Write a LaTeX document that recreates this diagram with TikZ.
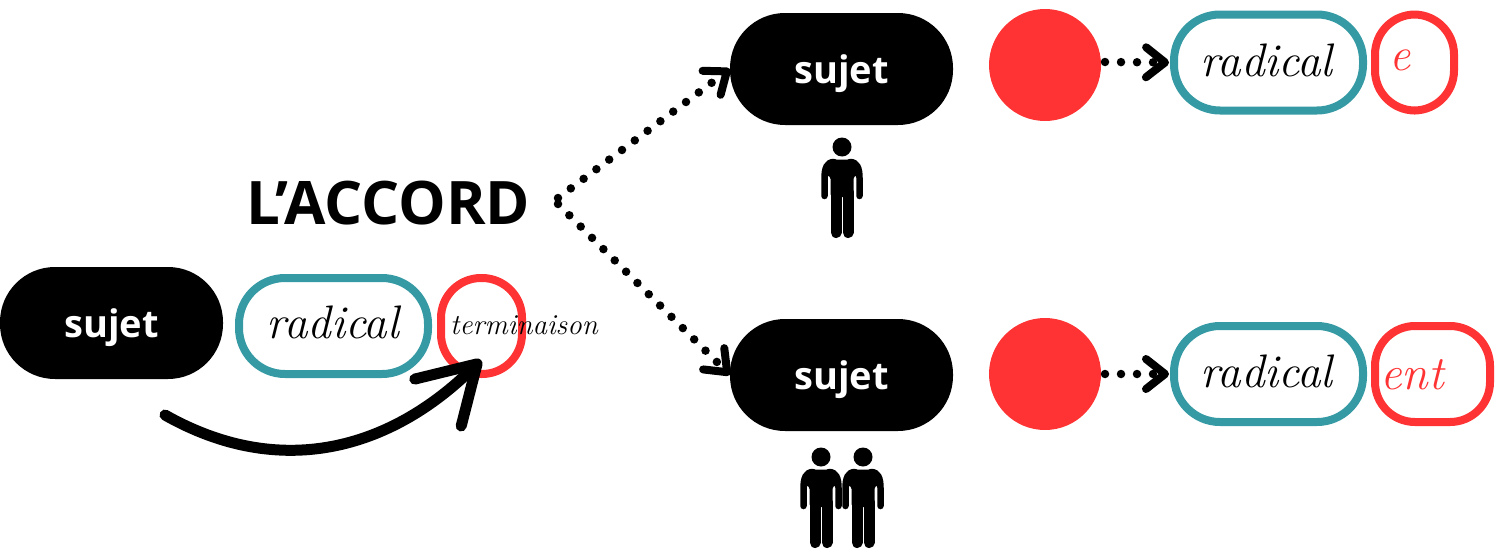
\documentclass[tikz,border=0pt]{standalone}
\usepackage{fontspec}
\usepackage{tikz}
\usetikzlibrary{arrows.meta}
\newfontfamily\ouverte{Open Sans}
\definecolor{rouge}{HTML}{FF3333}
\definecolor{sarcelle}{HTML}{359AA3}

\begin{document}
\begin{tikzpicture}[
	x=1pt, y=-1pt,
	outer sep=0pt,
	sujetnode/.style={rectangle, fill=black, text=white, rounded corners=55pt, minimum width=223pt, minimum height=112pt, text height=28pt, text depth=0pt, font=\ouverte\bfseries\fontsize{38}{42}\selectfont},
	radicalnode/.style={rectangle, draw=sarcelle, line width=8pt, rounded corners=46pt, minimum width=189pt, minimum height=96pt},
	finnode/.style={rectangle, draw=rouge, line width=8pt, rounded corners=40pt, minimum height=96pt},
	motnode/.style={font=\itshape\fontsize{47}{50}\selectfont},
	pointnode/.style={circle, fill=rouge, minimum size=112pt},
	pointille/.style={line width=8.5pt, line cap=round, dash pattern=on 0pt off 16pt, -{Straight Barb[length=19pt, width=30pt, line width=8pt, round]}},
	personne/.pic={
		\fill (0,0) circle[radius=9.5pt];
		\fill[rounded corners=3pt] (-11,12.5) -- (11,12.5) -- (19,28) -- (11.5,29) -- (11.5,50) -- (-11.5,50) -- (-11.5,29) -- (-19,28) -- cycle;
		\draw[line width=11pt, line cap=round] (-6,45) -- (-6,85.5) (6,45) -- (6,85.5);
		\draw[line width=6.5pt, line cap=round] (17.5,49) -- (17.5,31) .. controls (17.5,21) and (15,15) .. (8,15);
		\draw[line width=6.5pt, line cap=round] (-17.5,49) -- (-17.5,31) .. controls (-17.5,21) and (-15,15) .. (-8,15);
	},
	]
	\useasboundingbox (0,0) rectangle (1498,554);
	%Nodes
	\node[sujetnode]   (s0)  at (111.5,323) {sujet};
	\node[radicalnode] (r0)  at (333.5,326) {};
	\node[finnode, minimum width=81pt] (t0) at (481.5,326) {};
	\node[font=\itshape\fontsize{29}{32}\selectfont] (mot0) at (524,325) {terminaison};
	\node[motnode] (mot1) at (333,322) {radical};
	\node[font=\ouverte\bfseries\fontsize{60}{64}\selectfont] (titre) at (388,203) {L’ACCORD};

	\node[sujetnode]   (s1)  at (841.5,69) {sujet};
	\node[pointnode]   (p1)  at (1045,65) {};
	\node[radicalnode] (r1)  at (1268.5,62.5) {};
	\node[motnode] (mot2) at (1266.5,60) {radical};
	\node[finnode, minimum width=79pt] (t1) at (1414.5,62.5) {};
	\node[motnode, text=rouge] (mot3) at (1400,60) {e};

	\node[sujetnode]   (s2)  at (841.5,375) {sujet};
	\node[pointnode]   (p2)  at (1045,374) {};
	\node[radicalnode] (r2)  at (1268.5,374) {};
	\node[motnode] (mot4) at (1266.5,371) {radical};
	\node[finnode, minimum width=115pt] (t2) at (1432.5,374) {};
	\node[motnode, text=rouge, font=\itshape\fontsize{48}{50}\selectfont] (mot5) at (1412,375) {ent};

	\pic (h1) at (842,147) {personne};
	\pic (h2) at (821,457) {personne};
	\pic (h3) at (863,457) {personne};

	\coordinate (forkhaut) at (558,198);
	\coordinate (forkbas)  at (558,204);
	\coordinate (depart)   at (165,415);
	\coordinate (pointe)   at (481,360);

	%Lines
	\draw[pointille] (forkhaut) -- (s1.west);
	\draw[pointille] (forkbas) -- (s2.west);
	\draw[pointille, shorten >=5pt] (p1.east) ++(4,-3) -- (r1.west);
	\draw[pointille, shorten >=5pt] (p2.east) ++(4,0) -- (r2.west);
	\draw[line width=11pt, line cap=round, -{Straight Barb[length=55pt, width=66pt, line width=11pt, round]}] (depart) .. controls (280,480) and (390,450) .. (pointe);
\end{tikzpicture}
\end{document}
